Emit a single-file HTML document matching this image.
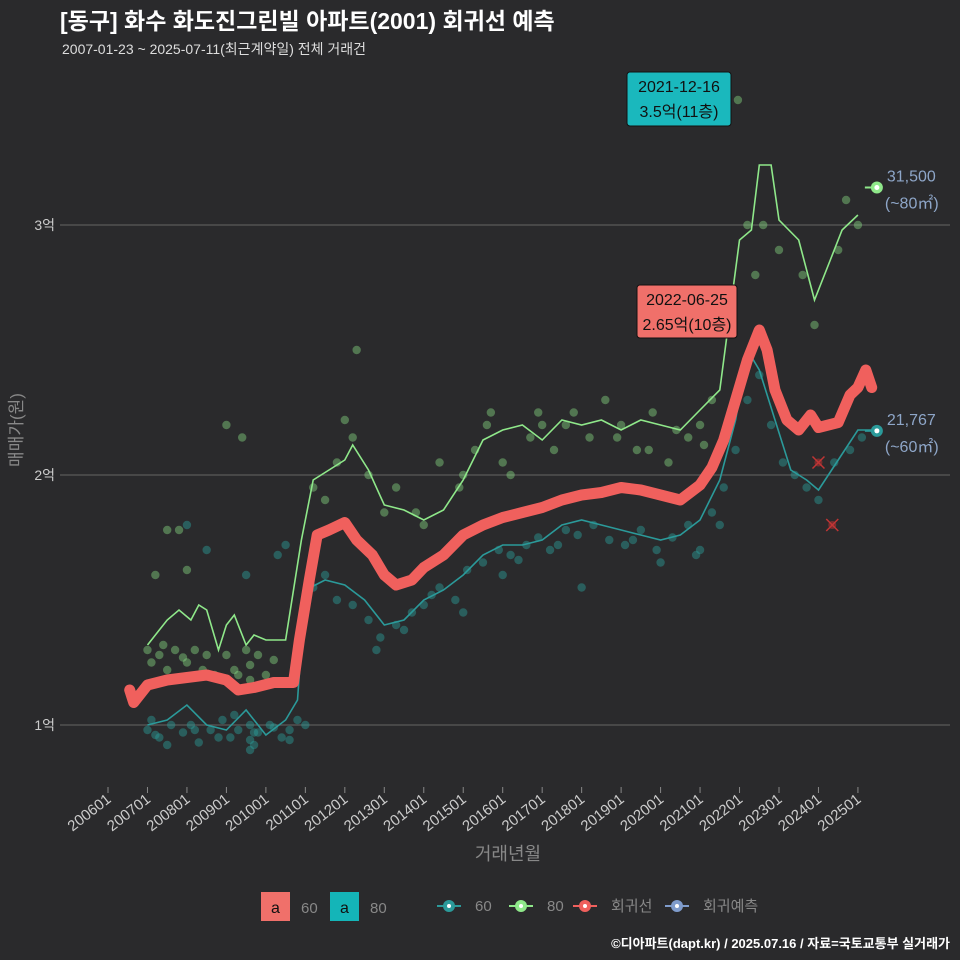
<!DOCTYPE html>
<html><head><meta charset="utf-8"><style>
body{margin:0;background:#2a2a2c;width:960px;height:960px;overflow:hidden;font-family:"Liberation Sans","Noto Sans CJK KR",sans-serif}
svg{display:block}
</style></head><body>
<svg id="c" width="960" height="960">
<rect width="960" height="960" fill="#2a2a2c"/>
<text x="60" y="29" fill="#fff" font-size="23" font-weight="bold" font-family="Liberation Sans,Noto Sans CJK KR,sans-serif">[동구] 화수 화도진그린빌 아파트(2001) 회귀선 예측</text>
<text x="62" y="54" fill="#ddd" font-size="14" font-family="Liberation Sans,Noto Sans CJK KR,sans-serif">2007-01-23 ~ 2025-07-11(최근계약일) 전체 거래건</text>
<text x="508" y="860" fill="#888" font-size="18" text-anchor="middle" font-family="Liberation Sans,Noto Sans CJK KR,sans-serif">거래년월</text>
<text transform="translate(22,430) rotate(-90)" fill="#888" font-size="17" text-anchor="middle" font-family="Liberation Sans,Noto Sans CJK KR,sans-serif">매매가(원)</text>
<text x="950" y="948" fill="#fff" font-size="13" font-weight="bold" text-anchor="end" font-family="Liberation Sans,Noto Sans CJK KR,sans-serif">©디아파트(dapt.kr) / 2025.07.16 / 자료=국토교통부 실거래가</text>
<g id="grid"></g><g id="pts"></g><g id="lines"></g><g id="ann"></g><g id="legend"></g>
</svg>
<script>
const yTicks=[1,2,3];
const yTickLabels=["1억","2억","3억"];
const xTickYears=[2006,2007,2008,2009,2010,2011,2012,2013,2014,2015,2016,2017,2018,2019,2020,2021,2022,2023,2024,2025];
const xTickLabels=["200601","200701","200801","200901","201001","201101","201201","201301","201401","201501","201601","201701","201801","201901","202001","202101","202201","202301","202401","202501"];
const redT=[2006.55,2006.65,2007.0,2007.5,2008.0,2008.5,2009.0,2009.3,2009.7,2010.2,2010.7,2010.85,2011.1,2011.3,2011.6,2012.0,2012.3,2012.7,2013.0,2013.3,2013.7,2014.0,2014.5,2015.0,2015.5,2016.0,2016.5,2017.0,2017.5,2018.0,2018.5,2019.0,2019.5,2020.0,2020.5,2021.0,2021.3,2021.6,2021.9,2022.2,2022.5,2022.7,2022.9,2023.2,2023.5,2023.8,2024.0,2024.5,2024.8,2025.0,2025.2,2025.35];
const redV=[1.14,1.09,1.16,1.18,1.19,1.20,1.18,1.14,1.15,1.17,1.17,1.34,1.58,1.76,1.78,1.81,1.74,1.68,1.60,1.56,1.58,1.63,1.68,1.76,1.80,1.83,1.85,1.87,1.90,1.92,1.93,1.95,1.94,1.92,1.90,1.96,2.03,2.14,2.30,2.46,2.58,2.50,2.34,2.22,2.18,2.24,2.19,2.21,2.32,2.35,2.42,2.35];
const g80T=[2007.0,2007.3,2007.5,2007.8,2008.1,2008.3,2008.5,2008.8,2009.0,2009.2,2009.5,2009.7,2010.0,2010.5,2010.9,2011.2,2011.6,2012.0,2012.2,2012.6,2013.0,2013.5,2014.0,2014.5,2015.0,2015.5,2016.0,2016.5,2017.0,2017.5,2018.0,2018.5,2019.0,2019.5,2020.0,2020.5,2021.0,2021.5,2021.8,2022.0,2022.3,2022.5,2022.8,2023.0,2023.5,2023.9,2024.3,2024.6,2025.0];
const g80V=[1.32,1.38,1.42,1.46,1.42,1.48,1.46,1.30,1.40,1.44,1.32,1.36,1.34,1.34,1.74,1.98,2.02,2.06,2.12,2.02,1.88,1.86,1.82,1.86,1.98,2.14,2.18,2.20,2.14,2.22,2.20,2.22,2.18,2.22,2.20,2.18,2.26,2.34,2.70,2.94,2.98,3.24,3.24,3.02,2.94,2.70,2.86,2.98,3.04];
const t60T=[2007.0,2007.5,2008.0,2008.5,2009.0,2009.5,2010.0,2010.5,2010.8,2011.0,2011.5,2012.0,2012.5,2013.0,2013.5,2014.0,2014.5,2015.0,2015.5,2016.0,2016.5,2017.0,2017.5,2018.0,2018.5,2019.0,2019.5,2020.0,2020.5,2021.0,2021.5,2021.9,2022.2,2022.5,2022.9,2023.3,2023.7,2024.0,2024.5,2025.0,2025.4];
const t60V=[1.00,1.02,1.08,1.00,0.98,1.06,0.96,1.02,1.10,1.54,1.58,1.56,1.50,1.40,1.42,1.50,1.54,1.60,1.68,1.72,1.72,1.74,1.80,1.82,1.80,1.78,1.76,1.74,1.76,1.82,1.98,2.22,2.50,2.42,2.22,2.02,1.98,1.94,2.06,2.18,2.18];
const g80PtT=[2007.0,2007.1,2007.3,2007.5,2007.7,2008.0,2008.2,2008.5,2008.7,2009.0,2009.2,2009.5,2009.6,2009.6,2009.8,2010.2,2010.0,2007.5,2007.2,2008.0,2009.0,2009.4,2011.2,2011.5,2012.0,2012.3,2012.6,2013.0,2013.3,2014.0,2014.4,2015.0,2015.3,2015.7,2016.2,2016.7,2017.0,2017.3,2017.8,2018.2,2018.6,2019.0,2019.4,2019.8,2020.2,2020.7,2021.0,2021.3,2021.7,2021.96,2022.2,2022.4,2022.6,2023.0,2023.6,2023.9,2024.5,2024.7,2025.0,2012.2,2011.8,2007.4,2007.9,2008.4,2009.3,2009.6,2007.8,2013.8,2014.9,2016.0,2017.6,2018.9,2019.7,2020.4,2021.1,2015.6,2016.9];
const g80PtV=[1.30,1.25,1.28,1.22,1.30,1.25,1.30,1.28,1.20,1.28,1.22,1.30,1.24,1.18,1.28,1.26,1.20,1.78,1.60,1.62,2.20,2.15,1.95,1.90,2.22,2.50,2.00,1.85,1.95,1.80,2.05,2.00,2.10,2.25,2.00,2.15,2.20,2.10,2.25,2.15,2.30,2.20,2.10,2.25,2.05,2.15,2.20,2.30,2.70,3.50,3.00,2.80,3.00,2.90,2.80,2.60,2.90,3.10,3.00,2.15,2.05,1.32,1.27,1.22,1.20,1.15,1.78,1.85,1.95,2.05,2.20,2.15,2.10,2.18,2.12,2.20,2.25];
const t60PtT=[2007.0,2007.1,2007.3,2007.6,2007.9,2008.1,2008.3,2008.6,2008.9,2009.1,2009.3,2009.6,2009.6,2009.6,2009.8,2010.1,2010.4,2010.6,2010.8,2008.0,2008.5,2009.5,2010.3,2010.5,2011.2,2011.5,2011.8,2012.2,2012.6,2012.9,2013.3,2013.7,2014.0,2014.4,2014.8,2015.1,2015.5,2015.9,2016.2,2016.6,2016.9,2017.2,2017.6,2017.9,2018.3,2018.7,2019.1,2019.5,2019.9,2020.3,2020.7,2021.0,2021.3,2021.6,2021.9,2022.2,2022.5,2022.8,2023.1,2023.4,2023.7,2024.0,2024.4,2024.8,2025.1,2012.8,2015.0,2016.0,2018.0,2020.0,2007.2,2007.5,2008.2,2008.8,2009.2,2009.7,2009.7,2010.2,2010.6,2011.0,2013.5,2014.2,2016.4,2017.4,2019.3,2020.9,2021.5];
const t60PtV=[0.98,1.02,0.95,1.00,0.97,1.00,0.93,0.98,1.02,0.95,0.98,1.00,0.94,0.90,0.97,1.00,0.95,0.98,1.02,1.80,1.70,1.60,1.68,1.72,1.55,1.60,1.50,1.48,1.42,1.35,1.40,1.45,1.48,1.55,1.50,1.62,1.65,1.70,1.68,1.72,1.75,1.70,1.78,1.76,1.80,1.74,1.72,1.78,1.70,1.75,1.80,1.70,1.85,1.95,2.10,2.30,2.40,2.20,2.05,2.00,1.95,1.90,2.05,2.10,2.15,1.30,1.45,1.60,1.55,1.65,0.96,0.92,0.98,0.95,1.04,0.97,0.92,0.99,0.94,1.00,1.38,1.52,1.66,1.72,1.74,1.68,1.80];
const endT=2025.48;
const end80=3.15, end60=2.1767;

const NS="http://www.w3.org/2000/svg";
const X=t=>108+(t-2006)*39.47;
const Y=v=>725-(v-1)*250;
function mk(tag,attrs,parent){const e=document.createElementNS(NS,tag);for(const k in attrs)e.setAttribute(k,attrs[k]);parent.appendChild(e);return e;}
const grid=document.getElementById('grid'),pts=document.getElementById('pts'),lines=document.getElementById('lines'),ann=document.getElementById('ann'),leg=document.getElementById('legend');
const F="Liberation Sans,Noto Sans CJK KR,sans-serif";
yTicks.forEach((v,i)=>{
 const l=mk('line',{x1:60,x2:950,y1:Y(v),y2:Y(v),stroke:'#5a5a5a','stroke-width':1.2},grid);
 
 
 const t=mk('text',{x:55,y:Y(v)+5,fill:'#ccc','font-size':14,'text-anchor':'end','font-family':F},grid);
 t.textContent=yTickLabels[i];
 
 
});
xTickYears.forEach((yr,i)=>{
 const x=X(yr);
 const l=mk('line',{x1:x,x2:x,y1:787,y2:793,stroke:'#888'},grid);
 
 
 const t=mk('text',{transform:`translate(${x+4},801) rotate(-38)`,fill:'#ccc','font-size':15,'text-anchor':'end','font-family':F},grid);
 t.textContent=xTickLabels[i];
 
 
});
g80PtT.forEach((t,i)=>{
 const c=mk('circle',{cx:X(t),cy:Y(g80PtV[i]),r:4.2,fill:'#8fe88a','fill-opacity':0.4},pts);
 
 
});
t60PtT.forEach((t,i)=>{
 const c=mk('circle',{cx:X(t),cy:Y(t60PtV[i]),r:4.2,fill:'#2a9d9a','fill-opacity':0.45},pts);
 
 
});
function path(T,V){return T.map((t,i)=>(i?'L':'M')+X(t).toFixed(1)+','+Y(V[i]).toFixed(1)).join(' ');}
let p=mk('path',{d:path(t60T,t60V),stroke:'#2b9a9a','stroke-width':1.6,fill:'none'},lines);


p=mk('path',{d:path(g80T,g80V),stroke:'#8fe88a','stroke-width':1.6,fill:'none'},lines);


p=mk('path',{d:path(redT,redV),stroke:'#f0605d','stroke-width':11,fill:'none','stroke-linejoin':'round','stroke-linecap':'round'},lines);


[[end80,'#8fe88a','31,500','end-80'],[end60,'#2b9a9a','21,767','end-60']].forEach(([v,col,lab,nm])=>{
 const l=mk('line',{x1:X(endT)-12,x2:X(endT),y1:Y(v),y2:Y(v),stroke:col,'stroke-width':2},ann);
 
 
 const c=mk('circle',{cx:X(endT),cy:Y(v),r:6,fill:col},ann);
 
 
 mk('circle',{cx:X(endT),cy:Y(v),r:2.5,fill:'#fff'},ann);
 const t=mk('text',{x:X(endT)+10,y:Y(v)-6,fill:'#8ea6c8','font-size':16,'font-family':F},ann);
 t.textContent=lab;
 
 
 const t2=mk('text',{x:X(endT)+8,y:Y(v)+21,fill:'#8ea6c8','font-size':16,'font-family':F},ann);
 t2.textContent='(~'+(nm==='end-80'?'80':'60')+'㎡)';
 
 
});
[[2024.0,2.05],[2024.35,1.80]].forEach(([t,v])=>{
 const g=mk('g',{},ann);
 
 
 mk('circle',{cx:X(t),cy:Y(v),r:4,fill:'#b03030','fill-opacity':0.6},g);
 mk('path',{d:`M${X(t)-6},${Y(v)-6}L${X(t)+6},${Y(v)+6}M${X(t)+6},${Y(v)-6}L${X(t)-6},${Y(v)+6}`,stroke:'#c03535','stroke-width':1.5},g);
});
function box(x,y,w,h,fill,l1,l2,nm){
 const g=mk('g',{},ann);
 
 
 mk('rect',{x:x,y:y,width:w,height:h,rx:3,fill:fill,stroke:'#111','stroke-width':1},g);
 const a=mk('text',{x:x+w/2,y:y+20,'text-anchor':'middle','font-size':16,fill:'#111','font-family':F},g);a.textContent=l1;
 const b=mk('text',{x:x+w/2,y:y+45,'text-anchor':'middle','font-size':16,fill:'#111','font-family':F},g);b.textContent=l2;
}
box(627,72,104,54,'#1ab8bd','2021-12-16','3.5억(11층)','max-annotation');
box(637,285,100,53,'#f0706a','2022-06-25','2.65억(10층)','recent-annotation');
function lk(x,fill,lab){
 const g=mk('g',{},leg);
 
 
 mk('rect',{x:x,y:892,width:29,height:29,fill:fill},g);
 const a=mk('text',{x:x+14.5,y:913,'text-anchor':'middle','font-size':16,fill:'#111','font-family':F},g);a.textContent='a';
 const b=mk('text',{x:x+40,y:913,'font-size':15,fill:'#888','font-family':F},g);b.textContent=lab;
}
lk(261,'#f0706a','60');lk(330,'#14b5b8','80');
[[440,'#2b9a9a','60'],[512,'#8fe88a','80'],[576,'#f0605d','회귀선'],[668,'#7f9ccc','회귀예측']].forEach(([x,col,lab])=>{
 const g=mk('g',{},leg);
 
 
 mk('line',{x1:x-3,x2:x+21,y1:906,y2:906,stroke:col,'stroke-width':2},g);
 mk('circle',{cx:x+9,cy:906,r:6,fill:col},g);
 mk('circle',{cx:x+9,cy:906,r:2,fill:'#fff'},g);
 const t=mk('text',{x:x+35,y:911,'font-size':15,fill:'#888','font-family':F},g);t.textContent=lab;
});
</script>
</body></html>
